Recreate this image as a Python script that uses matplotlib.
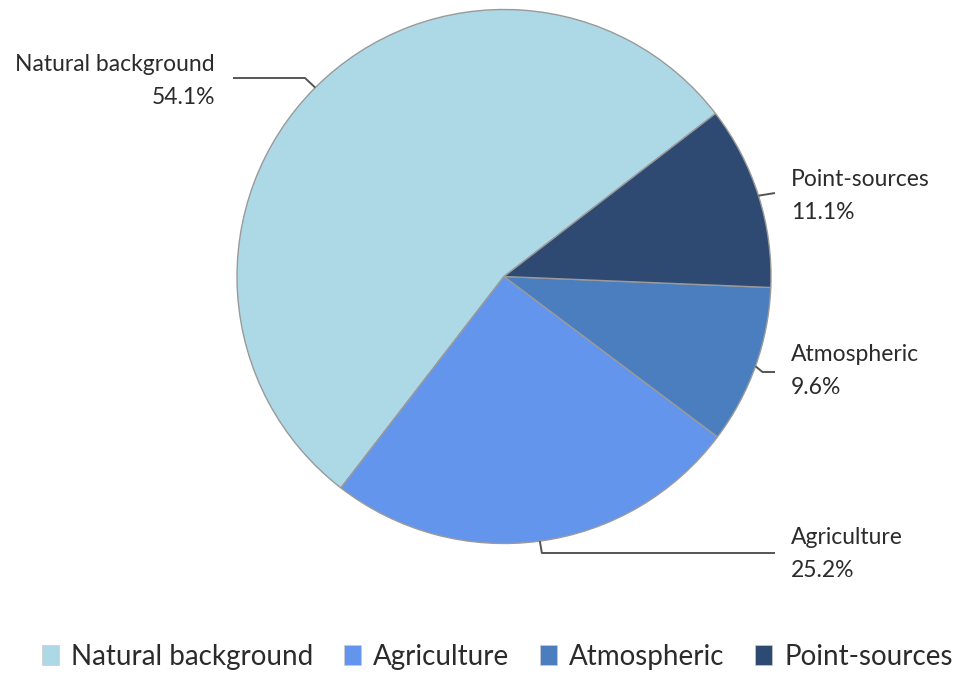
import numpy as np
import matplotlib.pyplot as plt
from matplotlib.patches import Patch

plt.rcParams['font.family'] = ['Lato', 'DejaVu Sans']

sources = ['Natural background', 'Agriculture', 'Atmospheric', 'Point-sources']
shares = [54.1, 25.2, 9.6, 11.1]
colors = ['#add8e6', '#6495ed', '#4a7ebf', '#2e4a72']

W, H = 960, 673
fig = plt.figure(figsize=(W / 100, H / 100), dpi=100)
ax = fig.add_axes([0, 0, 1, 1])

cx, cy, r = 504, H - 276.5, 267
start = 37.6
wedges, _ = ax.pie(shares, colors=colors, startangle=start, counterclock=True,
                   center=(cx, cy), radius=r, frame=True,
                   wedgeprops=dict(edgecolor='#9a9a9a', linewidth=1.0))
ax.set_xlim(0, W)
ax.set_ylim(0, H)
ax.set_aspect('equal')
ax.axis('off')


def edge_point(w):
    mid = np.deg2rad((w.theta1 + w.theta2) / 2)
    return cx + r * np.cos(mid), cy + r * np.sin(mid)


line_kw = dict(color='#555555', linewidth=1.4, solid_capstyle='butt')
txt_kw = dict(fontsize=16.5, color='#2b2b2b', linespacing=1.75)

# Natural background: bent leader to the left
x0, y0 = edge_point(wedges[0])
ax.plot([x0, 305, 233], [y0, H - 78, H - 78], **line_kw)
ax.text(215, H - 81, f'{sources[0]}\n{shares[0]:.1f}%', ha='right', va='center',
        multialignment='right', **txt_kw)

# Agriculture: down then right
x0, y0 = edge_point(wedges[1])
ax.plot([x0, x0 + 2, 775], [y0, H - 553, H - 553], **line_kw)
ax.text(791, H - 554, f'{sources[1]}\n{shares[1]:.1f}%', ha='left', va='center', **txt_kw)

# Atmospheric
x0, y0 = edge_point(wedges[2])
ax.plot([x0, x0 + 7, 775], [y0, H - 372, H - 372], **line_kw)
ax.text(791, H - 371, f'{sources[2]}\n{shares[2]:.1f}%', ha='left', va='center', **txt_kw)

# Point-sources
x0, y0 = edge_point(wedges[3])
ax.plot([x0, 775], [y0, H - 193], **line_kw)
ax.text(791, H - 196, f'{sources[3]}\n{shares[3]:.1f}%', ha='left', va='center', **txt_kw)

handles = [Patch(facecolor=c, edgecolor='#cccccc', linewidth=0.5) for c in colors]
fig.legend(handles, sources, loc='center', bbox_to_anchor=(497.5 / W, 1 - 657 / H),
           ncol=4, frameon=False, fontsize=20, handlelength=0.6, handleheight=0.75,
           handletextpad=0.45, columnspacing=1.1, labelcolor='#2b2b2b')

fig.savefig('out.png', dpi=100)
